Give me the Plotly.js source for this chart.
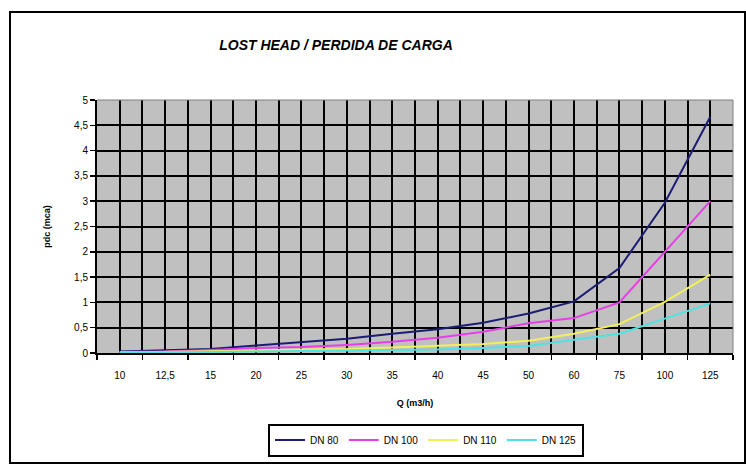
<!DOCTYPE html>
<html>
<head>
<meta charset="utf-8">
<script src="https://cdn.plot.ly/plotly-3.0.1.min.js"></script>
<style>html,body{margin:0;padding:0;background:#fff;}#chart{width:746px;height:464px;}</style>
</head>
<body>
<div id="chart"></div>
<script>
// Flow categories Q (m3/h)
const categories = ["10", "12,5", "15", "20", "25", "30", "35", "40", "45", "50", "60", "75", "100", "125"];
// Head loss pdc (mca) per pipe size
const dn80  = [0.03, 0.05, 0.08, 0.15, 0.22, 0.28, 0.38, 0.47, 0.60, 0.78, 1.02, 1.68, 2.97, 4.67];
const dn100 = [0.02, 0.03, 0.06, 0.10, 0.12, 0.16, 0.22, 0.30, 0.42, 0.59, 0.69, 1.00, 2.00, 3.00];
const dn110 = [0.01, 0.02, 0.03, 0.05, 0.07, 0.08, 0.11, 0.14, 0.18, 0.24, 0.38, 0.57, 1.01, 1.55];
const dn125 = [0.01, 0.01, 0.02, 0.03, 0.04, 0.05, 0.06, 0.07, 0.10, 0.14, 0.26, 0.38, 0.68, 0.98];
const seriesNames = ["DN 80", "DN 100", "DN 110", "DN 125"];
const seriesColors = ["#1c1c72", "#e83ee8", "#f2f05a", "#4ee2e2"];

const W = 746, H = 464;
const xIdx = categories.map((c, i) => i);
const allSeries = [dn80, dn100, dn110, dn125];

const traces = allSeries.map((vals, k) => ({
  type: "scatter",
  mode: "lines",
  name: seriesNames[k],
  x: xIdx,
  y: vals,
  line: {color: seriesColors[k], width: 2},
  hoverinfo: "skip"
}));

const font = "Liberation Sans, Arial, sans-serif";
const px = v => v / W;
const py = v => 1 - v / H;

const layout = {
  width: W, height: H,
  margin: {l: 0, r: 0, t: 0, b: 0},
  paper_bgcolor: "#ffffff",
  plot_bgcolor: "#c0c0c0",
  separators: ",.",
  font: {family: font, size: 10, color: "#000"},
  showlegend: true,
  title: {
    text: "<b><i>LOST HEAD / PERDIDA DE CARGA</i></b>",
    font: {family: font, size: 14, color: "#000"},
    x: px(336), xanchor: "center", xref: "paper",
    y: py(45), yanchor: "middle", yref: "paper"
  },
  xaxis: {
    domain: [px(97), px(733)],
    range: [-0.5, 13.5],
    tickmode: "array",
    tickvals: xIdx,
    ticktext: categories,
    ticks: "",
    ticklabelstandoff: 12,
    showgrid: true, gridcolor: "#000", gridwidth: 2,
    showline: true, linecolor: "#000", linewidth: 2,
    zeroline: false,
    tickfont: {family: font, size: 10, color: "#000"},
    minor: {
      tickmode: "linear", tick0: -0.5, dtick: 1,
      ticks: "outside", ticklen: 5, tickcolor: "#000", tickwidth: 1.5,
      showgrid: true, gridcolor: "#000", gridwidth: 2
    },
    title: {text: "<b>Q (m3/h)</b>", font: {family: font, size: 9, color: "#000"}, standoff: 20},
    fixedrange: true
  },
  yaxis: {
    domain: [py(353), py(100)],
    range: [0, 5],
    dtick: 0.5, tick0: 0,
    ticks: "outside", ticklen: 5, tickcolor: "#000", tickwidth: 1.5,
    showgrid: true, gridcolor: "#000", gridwidth: 2,
    showline: true, linecolor: "#000", linewidth: 2,
    zeroline: false,
    tickfont: {family: font, size: 10, color: "#000"},
    title: {text: "<b>pdc (mca)</b>", font: {family: font, size: 9, color: "#000"}, standoff: 22},
    fixedrange: true
  },
  legend: {
    orientation: "h",
    x: px(426), xanchor: "center",
    y: py(440), yanchor: "middle",
    bgcolor: "#ffffff",
    bordercolor: "#000", borderwidth: 2,
    font: {family: font, size: 10, color: "#000"},
    itemwidth: 30,
    tracegroupgap: 0
  },
  shapes: [
    {type: "rect", xref: "paper", yref: "paper",
     x0: px(10), x1: px(745), y0: py(463), y1: py(12),
     line: {color: "#000", width: 2}, fillcolor: "rgba(0,0,0,0)"},
    {type: "line", xref: "paper", yref: "paper",
     x0: px(97), x1: px(733), y0: py(100), y1: py(100),
     line: {color: "#808080", width: 1}},
    {type: "line", xref: "paper", yref: "paper",
     x0: px(733), x1: px(733), y0: py(100), y1: py(353),
     line: {color: "#808080", width: 1}}
  ]
};

Plotly.newPlot("chart", traces, layout, {displayModeBar: false, staticPlot: true});
</script>
</body>
</html>
